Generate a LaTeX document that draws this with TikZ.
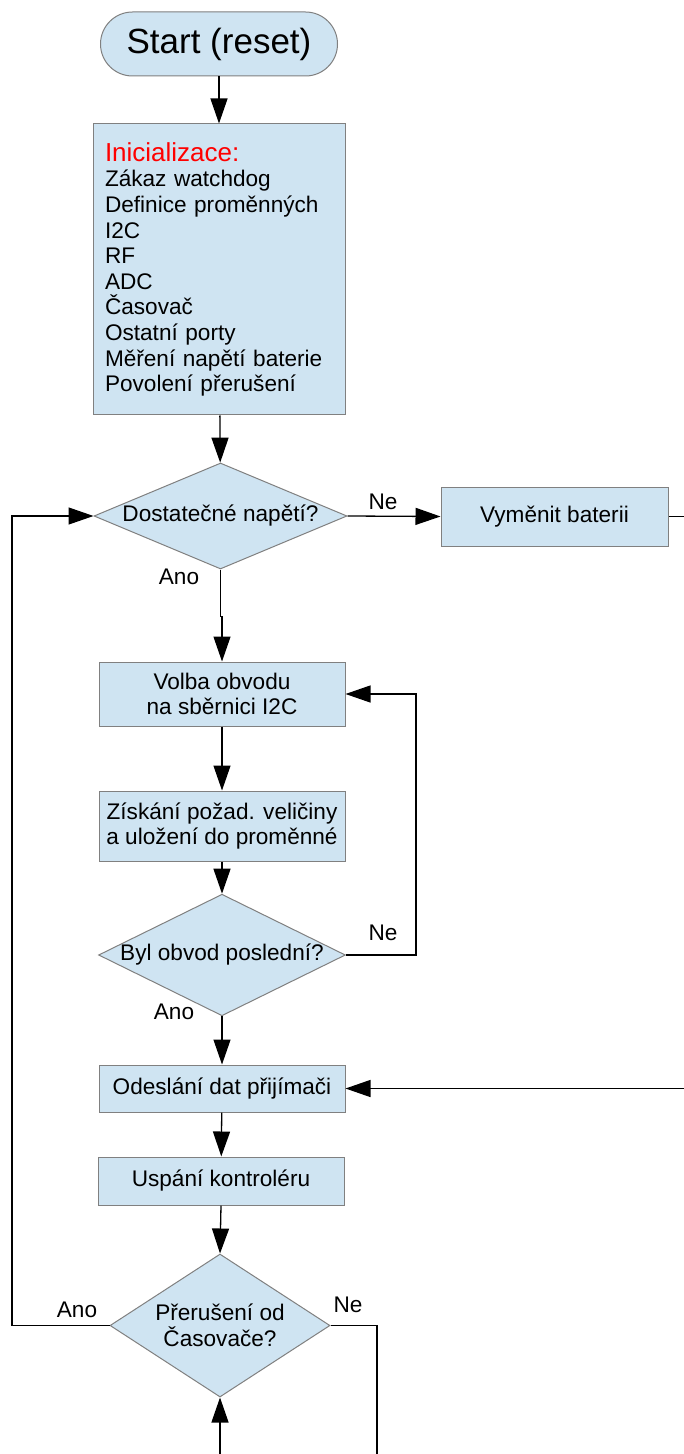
\documentclass[tikz,border=0pt]{standalone}
\usepackage{fontspec}
\setmainfont{Liberation Sans}
\usetikzlibrary{shapes.geometric,arrows.meta}
\definecolor{boxblue}{RGB}{207,228,242}
\definecolor{bordergray}{RGB}{128,128,128}
\newcommand\bodyfs{\fontsize{11.3}{12.8}\selectfont}
\tikzset{
  box/.style={draw=bordergray, fill=boxblue, line width=0.5pt, inner sep=0pt, font=\bodyfs, align=center},
  dia/.style={shape=diamond, draw=bordergray, fill=boxblue, line width=0.5pt, inner sep=0pt, font=\bodyfs, align=center},
  conn/.style={draw=black, line width=0.65pt, -{Triangle[length=12.5pt,width=8.5pt]}},
  plain/.style={draw=black, line width=0.65pt},
  lbl/.style={font=\bodyfs, inner sep=0pt}
}
\begin{document}
\begin{tikzpicture}[x=0.5pt,y=-0.5pt]
\useasboundingbox (0,0) rectangle (684,1454);
\clip (0,0) rectangle (684,1454);
\fill[white] (0,0) rectangle (684,1454);

\node[box, rounded corners=16pt, minimum width=118.5pt, minimum height=32pt, font=\fontsize{17.5}{19}\selectfont] (start) at (219,44) {Start (reset)};

\node[box, align=left, inner xsep=6pt, text width=114pt, minimum height=145.5pt] (init) at (219,269.5)
 {{\color{red}\fontsize{13}{15}\selectfont Inicializace:}\\
  Zákaz watchdog\\
  Definice proměnných\\
  I2C\\
  RF\\
  ADC\\
  Časovač\\
  Ostatní porty\\
  Měření napětí baterie\\
  Povolení přerušení};

\node[dia, aspect=2.39, minimum width=126.5pt, minimum height=53pt] (d1) at (220.5,516) {Dostatečné napětí?};
\node[box, minimum width=113.5pt, minimum height=29.5pt] (vym) at (554.5,516.5) {Vyměnit baterii};
\node[box, minimum width=123pt, minimum height=32pt] (volba) at (222,694) {Volba obvodu\\na sběrnici I2C};
\node[box, minimum width=123pt, minimum height=35pt] (zisk) at (222,826) {Získání požad. veličiny\\a uložení do proměnné};
\node[dia, aspect=2.03, minimum width=123pt, minimum height=60.5pt] (byl) at (222,955) {Byl obvod poslední?};
\node[box, minimum width=123pt, minimum height=23.5pt] (odes) at (222,1088.5) {Odeslání dat přijímači};
\node[box, minimum width=123pt, minimum height=24pt] (usp) at (221,1181) {Uspání kontroléru};
\node[dia, aspect=1.54, minimum width=110pt, minimum height=71.5pt] (d3) at (220,1325.5) {Přerušení od\\Časovače?};

\coordinate (rx) at (720,0);
\coordinate (lx) at (12,0);
\coordinate (loopx) at (416,0);
\coordinate (nex) at (377,0);
\coordinate (bot) at (220,1520);

\draw[conn] (start) -- (init);
\draw[conn] (init) -- (d1);
\draw[conn] (d1.east) -- (vym.west);
\draw[conn] (vym.east) -- (vym.east -| rx) |- (odes.east);
\draw[conn] (d1.south) -- ++(0,47) -| (volba.north);
\draw[conn] (volba) -- (zisk);
\draw[conn] (zisk) -- (byl);
\draw[conn] (byl.east) -- (byl.east -| loopx) |- (volba.east);
\draw[conn] (byl) -- (odes);
\draw[conn] (odes) -- (usp);
\draw[conn] (usp.south) -- (d3.north);
\draw[conn] (d3.west) -- (d3.west -| lx) |- (d1.west);
\draw[plain] (d3.east) -- (d3.east -| nex) -- ++(0,250);
\draw[conn] (bot) -- (d3.south);

\node[lbl] (ne1) at (383,502) {Ne};
\node[lbl] (ano1) at (179,577) {Ano};
\node[lbl] (ne2) at (383,933) {Ne};
\node[lbl] (ano2) at (174,1012) {Ano};
\node[lbl] (ano3) at (77,1310) {Ano};
\node[lbl] (ne3) at (348,1305) {Ne};
\end{tikzpicture}
\end{document}
